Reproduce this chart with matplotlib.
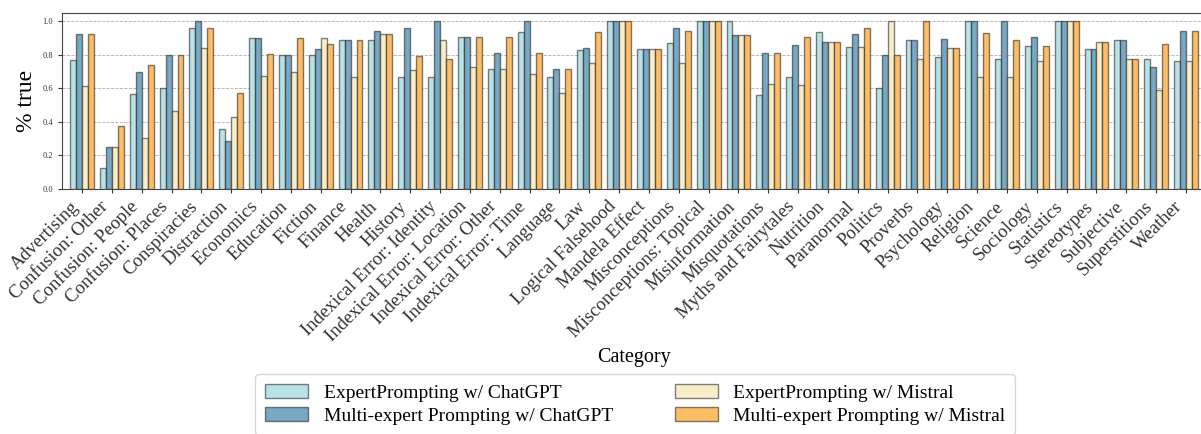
import matplotlib

matplotlib.use("Agg")
import matplotlib.pyplot as plt
import numpy as np

categories = [
    "Advertising", "Confusion: Other", "Confusion: People", "Confusion: Places",
    "Conspiracies", "Distraction", "Economics", "Education", "Fiction", "Finance",
    "Health", "History", "Indexical Error: Identity", "Indexical Error: Location",
    "Indexical Error: Other", "Indexical Error: Time", "Language", "Law",
    "Logical Falsehood", "Mandela Effect", "Misconceptions", "Misconceptions: Topical",
    "Misinformation", "Misquotations", "Myths and Fairytales", "Nutrition",
    "Paranormal", "Politics", "Proverbs", "Psychology", "Religion", "Science",
    "Sociology", "Statistics", "Stereotypes", "Subjective", "Superstitions", "Weather",
]

expert_chatgpt = [
    0.769, 0.125, 0.565, 0.600, 0.960, 0.357, 0.903, 0.800, 0.800, 0.889,
    0.891, 0.667, 0.667, 0.909, 0.714, 0.938, 0.667, 0.828, 1.000, 0.833,
    0.870, 1.000, 1.000, 0.563, 0.667, 0.938, 0.846, 0.600, 0.889, 0.789,
    1.000, 0.778, 0.855, 1.000, 0.833, 0.889, 0.773, 0.765,
]
multi_chatgpt = [
    0.923, 0.250, 0.696, 0.800, 1.000, 0.286, 0.903, 0.800, 0.833, 0.889,
    0.945, 0.958, 1.000, 0.909, 0.810, 1.000, 0.714, 0.844, 1.000, 0.833,
    0.960, 1.000, 0.917, 0.813, 0.857, 0.875, 0.923, 0.800, 0.889, 0.895,
    1.000, 1.000, 0.909, 1.000, 0.833, 0.889, 0.727, 0.941,
]
expert_mistral = [
    0.615, 0.250, 0.304, 0.467, 0.840, 0.429, 0.677, 0.700, 0.900, 0.667,
    0.927, 0.708, 0.889, 0.727, 0.714, 0.688, 0.571, 0.750, 1.000, 0.833,
    0.750, 1.000, 0.917, 0.625, 0.619, 0.875, 0.846, 1.000, 0.778, 0.842,
    0.667, 0.667, 0.764, 1.000, 0.875, 0.778, 0.591, 0.765,
]
multi_mistral = [
    0.923, 0.375, 0.739, 0.800, 0.960, 0.571, 0.806, 0.900, 0.867, 0.889,
    0.927, 0.792, 0.778, 0.909, 0.905, 0.813, 0.714, 0.938, 1.000, 0.833,
    0.940, 1.000, 0.917, 0.813, 0.905, 0.875, 0.960, 0.800, 1.000, 0.842,
    0.933, 0.889, 0.855, 1.000, 0.875, 0.778, 0.864, 0.941,
]

series_labels = [
    "ExpertPrompting w/ ChatGPT",
    "Multi-expert Prompting w/ ChatGPT",
    "ExpertPrompting w/ Mistral",
    "Multi-expert Prompting w/ Mistral",
]
colors = ["#b9e2e7", "#79a8c3", "#f8edc8", "#fdbd66"]

plt.rcParams["font.family"] = ["Liberation Serif", "DejaVu Serif"]

fig = plt.figure(figsize=(12.01, 4.34), dpi=100)
ax = fig.add_axes([0.0519, 0.5645, 0.952, 0.4055])

x = np.arange(len(categories))
width = 0.2
all_series = [expert_chatgpt, multi_chatgpt, expert_mistral, multi_mistral]
for i, (vals, label, color) in enumerate(zip(all_series, series_labels, colors)):
    ax.bar(
        x + (i - 1.5) * width, vals, width,
        color=color, edgecolor=(0.1, 0.1, 0.1, 0.55), linewidth=1.0,
        label=label, zorder=3,
    )

ax.set_xlim(-0.66, len(categories) - 0.34)
ax.set_ylim(0, 1.05)
ax.set_yticks(np.arange(0, 1.01, 0.2))
ax.set_yticklabels([f"{v:.1f}" for v in np.arange(0, 1.01, 0.2)], fontsize=6)
ax.set_xticks(x)
ax.set_xticklabels(categories, rotation=45, ha="right", fontsize=13.5)
ax.set_ylabel("% true", fontsize=17)
ax.set_xlabel("Category", fontsize=14.5, labelpad=2)
ax.grid(axis="y", linestyle="--", linewidth=0.6, color="#b0b0b0", zorder=0)
for spine in ax.spines.values():
    spine.set_color("#444444")
ax.tick_params(axis="both", colors="#333333", length=3)

fig.legend(
    loc="upper center", bbox_to_anchor=(0.529, 0.16), ncol=2,
    fontsize=14, handlelength=2.2, columnspacing=3.2, frameon=True,
    borderpad=0.5, labelspacing=0.3,
)

fig.savefig("out.png", dpi=100)
